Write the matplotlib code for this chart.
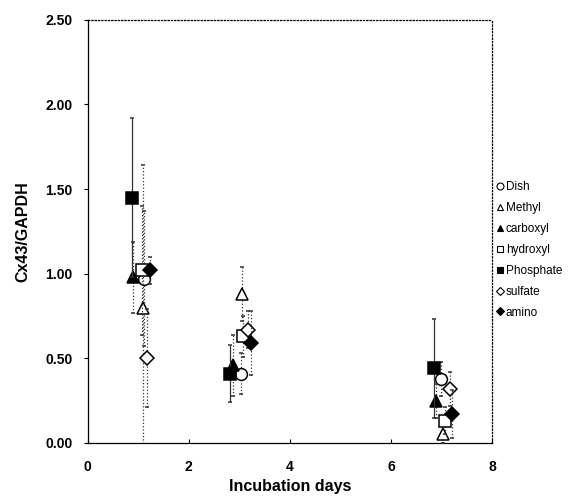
import matplotlib.pyplot as plt
from matplotlib.lines import Line2D
import numpy as np

plt.rcParams['font.family'] = ['Liberation Sans', 'DejaVu Sans']

# series: x positions (days), means, error (+/-)
names = ['Dish', 'Methyl', 'carboxyl', 'hydroxyl', 'Phosphate', 'sulfate', 'amino']
markers = ['o', '^', '^', 's', 's', 'D', 'D']
filled = [False, False, True, False, True, False, True]

dish_x = [1.12, 3.03, 7.00]
dish_y = [0.97, 0.41, 0.38]
dish_e = [0.40, 0.12, 0.10]

methyl_x = [1.10, 3.06, 7.04]
methyl_y = [0.80, 0.88, 0.05]
methyl_e = [0.84, 0.16, 0.05]

carboxyl_x = [0.90, 2.88, 6.89]
carboxyl_y = [0.98, 0.46, 0.25]
carboxyl_e = [0.21, 0.18, 0.10]

hydroxyl_x = [1.08, 3.08, 7.07]
hydroxyl_y = [1.02, 0.63, 0.13]
hydroxyl_e = [0.38, 0.12, 0.08]

phosphate_x = [0.88, 2.81, 6.86]
phosphate_y = [1.45, 0.41, 0.44]
phosphate_e = [0.47, 0.17, 0.29]

sulfate_x = [1.18, 3.17, 7.17]
sulfate_y = [0.50, 0.67, 0.32]
sulfate_e = [0.29, 0.11, 0.10]

amino_x = [1.23, 3.23, 7.20]
amino_y = [1.02, 0.59, 0.17]
amino_e = [0.08, 0.19, 0.14]

xs = [dish_x, methyl_x, carboxyl_x, hydroxyl_x, phosphate_x, sulfate_x, amino_x]
ys = [dish_y, methyl_y, carboxyl_y, hydroxyl_y, phosphate_y, sulfate_y, amino_y]
es = [dish_e, methyl_e, carboxyl_e, hydroxyl_e, phosphate_e, sulfate_e, amino_e]

fig = plt.figure(figsize=(5.85, 4.96), dpi=100)
ax = fig.add_axes([0.150, 0.107, 0.691, 0.853])

handles = []
for i in range(len(names)):
    ms = 8.5 if markers[i] != 'D' else 7
    fc = 'black' if filled[i] else 'white'
    ls = '-' if names[i] == 'Phosphate' else ':'
    eb = ax.errorbar(xs[i], ys[i], yerr=es[i], fmt=markers[i], ms=ms,
                     mfc=fc, mec='black', mew=1.1, ecolor='#333333',
                     elinewidth=0.9, capsize=1.5, capthick=0.9, zorder=3 + i)
    eb[2][0].set_linestyle(ls)
    # small marker for the legend only
    handles.append(Line2D([], [], ls='none', marker=markers[i],
                          ms=5 if markers[i] != 'D' else 4, mfc=fc,
                          mec='black', mew=0.8))

ax.set_xlim(0, 8)
ax.set_ylim(0, 2.5)
ax.set_xticks([0, 2, 4, 6, 8])
ax.set_yticks(np.arange(0, 2.51, 0.5))
ax.set_yticklabels(['%.2f' % v for v in np.arange(0, 2.51, 0.5)])
ax.tick_params(axis='x', direction='in', length=3, pad=12)
ax.tick_params(axis='y', direction='out', length=3, pad=8)
for lab in ax.get_xticklabels() + ax.get_yticklabels():
    lab.set_fontweight('bold')
    lab.set_fontsize(10)
for sp in ax.spines.values():
    sp.set_linewidth(0.9)
ax.spines['top'].set_linestyle(':')
ax.spines['right'].set_linestyle(':')

ax.set_xlabel('Incubation days', fontsize=11.5, fontweight='bold', labelpad=4)
ax.set_ylabel('Cx43/GAPDH', fontsize=11.5, fontweight='bold', labelpad=11)

ax.legend(handles, names, loc='upper left', bbox_to_anchor=(1.012, 0.618),
          frameon=False, fontsize=8.5, handlelength=0.6, borderpad=0,
          handletextpad=0.15, labelspacing=0.75, borderaxespad=0)

fig.savefig('out.png', dpi=100)
